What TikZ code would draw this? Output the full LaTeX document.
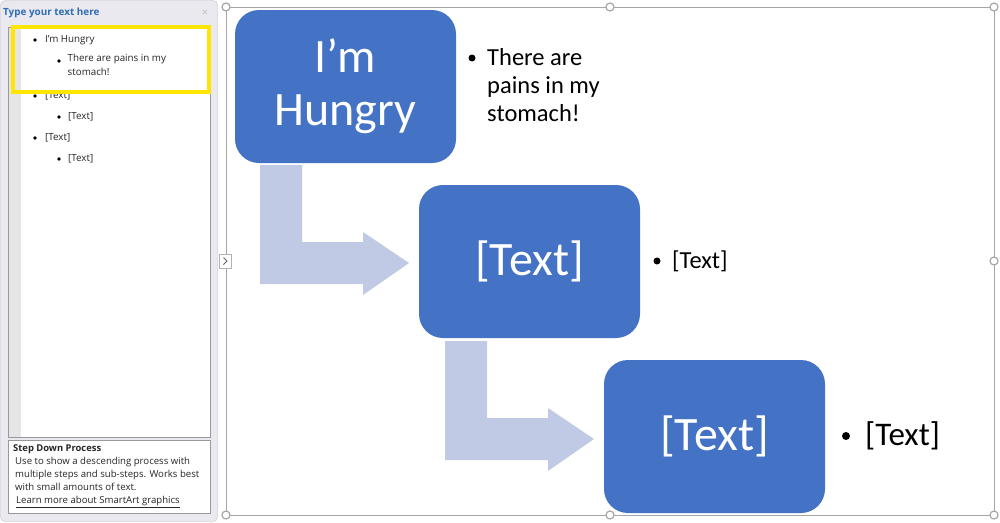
\documentclass[tikz,border=0pt]{standalone}
\usepackage{fontspec}
\setmainfont{Carlito}
\newfontfamily\uifont{Open Sans}
\usetikzlibrary{calc}
\definecolor{boxblue}{HTML}{4472C4}
\definecolor{arrowblue}{HTML}{C1CAE4}
\definecolor{panebg}{HTML}{E9E9EF}
\definecolor{titleblue}{HTML}{2F6DB5}
\definecolor{hiyellow}{HTML}{FFE600}
\definecolor{framegray}{HTML}{A6A6A6}
\definecolor{stripgray}{HTML}{E6E6E6}
\begin{document}
\begin{tikzpicture}[x=1pt,y=-1pt,
  stepbox/.style={fill=boxblue,draw=none,rounded corners=24pt,text=white,
    minimum width=221pt,minimum height=153pt,align=center,inner sep=0pt,
    font=\fontsize{48}{54}\selectfont},
  bentarrow/.style={fill=arrowblue,draw=none},
  handle/.style={circle,draw=framegray,fill=white,line width=1.2pt,minimum size=8pt,inner sep=0pt},
  paneitem/.style={anchor=west,inner sep=0pt,font=\uifont\fontsize{9.8}{14}\selectfont,text=black!85},
  dot/.style={circle,fill=black,inner sep=0pt,minimum size=3.6pt},
  bigdot/.style={circle,fill=black,inner sep=0pt,minimum size=7pt},
  sidetext/.style={anchor=west,inner sep=0pt,align=left}
]
\useasboundingbox (0,0) rectangle (1000,522);
\fill[white] (0,0) rectangle (1000,522);
% ---------- left pane ----------
\fill[panebg,rounded corners=5pt] (0,0) rectangle (218,522);
\draw[black!20,rounded corners=5pt] (0.5,0.5) rectangle (217.5,521.5);
\node[anchor=west,inner sep=0pt,font=\uifont\bfseries\fontsize{9.9}{12}\selectfont,text=titleblue] (title) at (3,13) {Type your text here};
\node[inner sep=0pt,font=\uifont\fontsize{11}{12}\selectfont,text=black!25] (closex) at (205,13) {×};
\draw[fill=white,draw=black!40] (8,27) rectangle (210,437);
\fill[stripgray] (8.5,27.5) rectangle (21,436.5);
\node[dot] (d1) at (35,40) {};
\node[paneitem] (t1) at (45,40) {I’m Hungry};
\node[dot] (d2) at (59,61) {};
\node[paneitem,anchor=north west,align=left] (t2) at (67.5,54) {There are pains in my\\stomach!};
\node[dot] (d3) at (35,96) {};
\node[paneitem] (t3) at (45,96) {[Text]};
\node[dot] (d4) at (59,117) {};
\node[paneitem] (t4) at (68,117) {[Text]};
\node[dot] (d5) at (35,138) {};
\node[paneitem] (t5) at (45,138) {[Text]};
\node[dot] (d6) at (59,159) {};
\node[paneitem] (t6) at (68,159) {[Text]};
\draw[hiyellow,line width=4pt] (13,27) rectangle (209,92);
\draw[fill=white,draw=black!40] (8,440) rectangle (210,513);
\node[paneitem,font=\uifont\bfseries\fontsize{9.4}{12}\selectfont] (dtitle) at (13,449) {Step Down Process};
\node[paneitem,anchor=north west,align=left,font=\uifont\fontsize{9.6}{13}\selectfont] (desc) at (15,457) {Use to show a descending process with\\multiple steps and sub-steps. Works best\\with small amounts of text.};
\node[paneitem,font=\uifont\fontsize{9.6}{12}\selectfont] (link) at (16,502) {\underline{Learn more about SmartArt graphics}};
% ---------- selection frame ----------
\draw[framegray,line width=1pt] (226,7) rectangle (994,515);
\foreach \hx/\hy [count=\i] in {226/7,610/7,994/7,994/261,226/515,610/515,994/515}
  \node[handle] (h\i) at (\hx,\hy) {};
% expand tab
\draw[black!30,fill=white] (219,254) rectangle (231,268);
\draw[black!60,line width=1pt] (223.5,257.5) -- (227,261) -- (223.5,264.5);
% ---------- bent arrows ----------
\fill[bentarrow] (260,165) -- (302,165) -- (302,242) -- (363,242) -- (363,232) -- (409,263)
  -- (363,295) -- (363,284) -- (260,284) -- cycle;
\fill[bentarrow] (445,341) -- (487,341) -- (487,418) -- (548,418) -- (548,408) -- (594,439)
  -- (548,471) -- (548,460) -- (445,460) -- cycle;
% ---------- step boxes ----------
\node[stepbox] (b1) at (345.5,86.5) {I’m\\[-1pt]Hungry};
\node[stepbox] (b2) at (529.5,261.5) {[Text]};
\node[stepbox] (b3) at (714.5,436.5) {[Text]};
% ---------- side bullets ----------
\node[bigdot] (s1) at (472,58) {};
\node[sidetext,anchor=north west,font=\fontsize{24.5}{28}\selectfont] (st1) at (487,48.5) {There are\\pains in my\\stomach!};
\node[bigdot] (s2) at (657,261) {};
\node[sidetext,font=\fontsize{24.5}{28}\selectfont] (st2) at (672,261) {[Text]};
\node[bigdot,minimum size=8pt] (s3) at (846,436) {};
\node[sidetext,font=\fontsize{33}{38}\selectfont] (st3) at (865,436) {[Text]};
\end{tikzpicture}
\end{document}
